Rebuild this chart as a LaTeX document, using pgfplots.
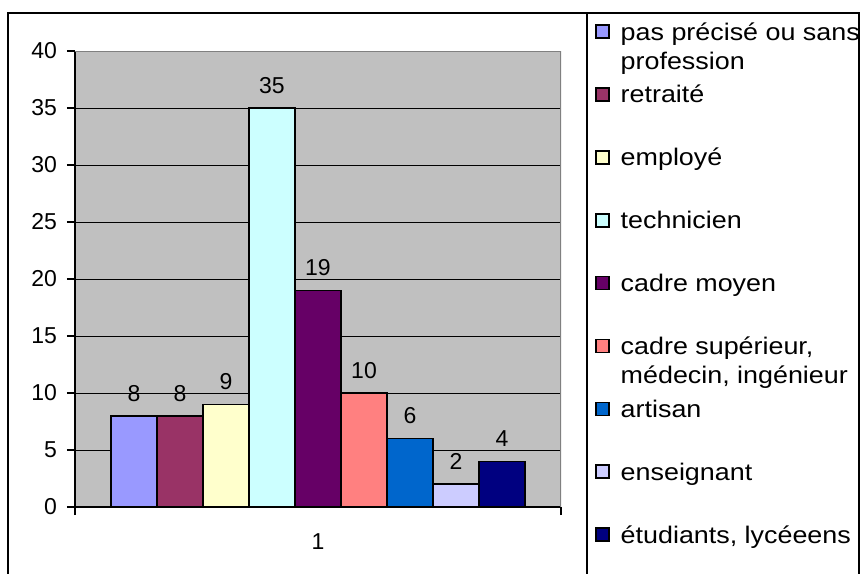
\documentclass[border=0pt]{standalone}
\usepackage{pgfplots}
\pgfplotsset{compat=1.18}
\usepackage{fontspec}
\setmainfont{Liberation Sans}
\newfontfamily\legfont{Liberation Sans}[FakeStretch=1.12]

\definecolor{c1}{HTML}{9999FF}
\definecolor{c2}{HTML}{993366}
\definecolor{c3}{HTML}{FFFFCC}
\definecolor{c4}{HTML}{CCFFFF}
\definecolor{c5}{HTML}{660066}
\definecolor{c6}{HTML}{FF8080}
\definecolor{c7}{HTML}{0066CC}
\definecolor{c8}{HTML}{CCCCFF}
\definecolor{c9}{HTML}{000080}
\definecolor{plotgray}{HTML}{C0C0C0}
\definecolor{bordergray}{HTML}{808080}

\newcommand{\twoline}[2]{\rlap{\smash{\raisebox{-14.5bp}{#2}}}#1}

\begin{document}
\begin{tikzpicture}
\path[use as bounding box] (0,0) rectangle (430bp,287bp);
\begin{axis}[
    at={(37.5bp,33.5bp)}, anchor=south west,
    scale only axis, width=243bp, height=228bp,
    ybar=0pt, bar width=23bp,
    xmin=0.5, xmax=1.5, ymin=0, ymax=40,
    axis x line=bottom, axis y line=left,
    axis line style={-, black, line width=0.75bp},
    ytick={0,5,...,40},
    xtick={0.5,1.5}, xticklabels={},
    extra x ticks={1}, extra x tick labels={1},
    extra x tick style={major tick length=0pt, xticklabel style={yshift=-10bp}},
    tick align=outside, major tick length=4bp,
    every tick/.style={black, line width=0.75bp},
    ymajorgrids, grid style={black, line width=0.5bp},
    axis background/.style={fill=plotgray},
    /pgf/number format/assume math mode=true,
    ticklabel style={font=\fontsize{11.5bp}{13bp}\selectfont},
    yticklabel style={xshift=-1.5bp},
    nodes near coords,
    nodes near coords style={font=\fontsize{11.5bp}{13bp}\selectfont, anchor=base, yshift=7.4bp},
    every axis plot post/.append style={draw=black, line width=0.85bp,
      legend image code/.code={
        \draw[##1, line width=0.85bp] (0bp,1bp) rectangle (6.5bp,7.5bp);
        \path (12bp,0bp);}},
    legend style={at={(1.070,1.0636)}, anchor=north west, draw=none, fill=none,
      inner sep=0pt, outer sep=0pt, row sep=19.45bp, column sep=0pt,
      nodes={inner sep=0pt, text height=9bp, text depth=3bp, anchor=base west,
        font=\legfont\fontsize{12bp}{14bp}\selectfont}},
    legend cell align=left,
]
% effectifs par profession
\addplot[fill=c1] coordinates {(1,8)};
\addlegendentry{\twoline{pas précisé ou sans}{profession}}
\addplot[fill=c2] coordinates {(1,8)};
\addlegendentry{retraité}
\addplot[fill=c3] coordinates {(1,9)};
\addlegendentry{employé}
\addplot[fill=c4] coordinates {(1,35)};
\addlegendentry{technicien}
\addplot[fill=c5] coordinates {(1,19)};
\addlegendentry{cadre moyen}
\addplot[fill=c6] coordinates {(1,10)};
\addlegendentry{\twoline{cadre supérieur,}{médecin, ingénieur}}
\addplot[fill=c7] coordinates {(1,6)};
\addlegendentry{artisan}
\addplot[fill=c8] coordinates {(1,2)};
\addlegendentry{enseignant}
\addplot[fill=c9] coordinates {(1,4)};
\addlegendentry{étudiants, lycéeens}
\draw[bordergray, line width=0.75bp] (rel axis cs:0,1) -- (rel axis cs:1,1) -- (rel axis cs:1,0);
\end{axis}
\draw[line width=1bp] (4bp,0) -- (4bp,280.5bp) -- (429.5bp,280.5bp) -- (429.5bp,0);
\draw[line width=1bp] (293.5bp,0) -- (293.5bp,280.5bp);
\end{tikzpicture}
\end{document}
